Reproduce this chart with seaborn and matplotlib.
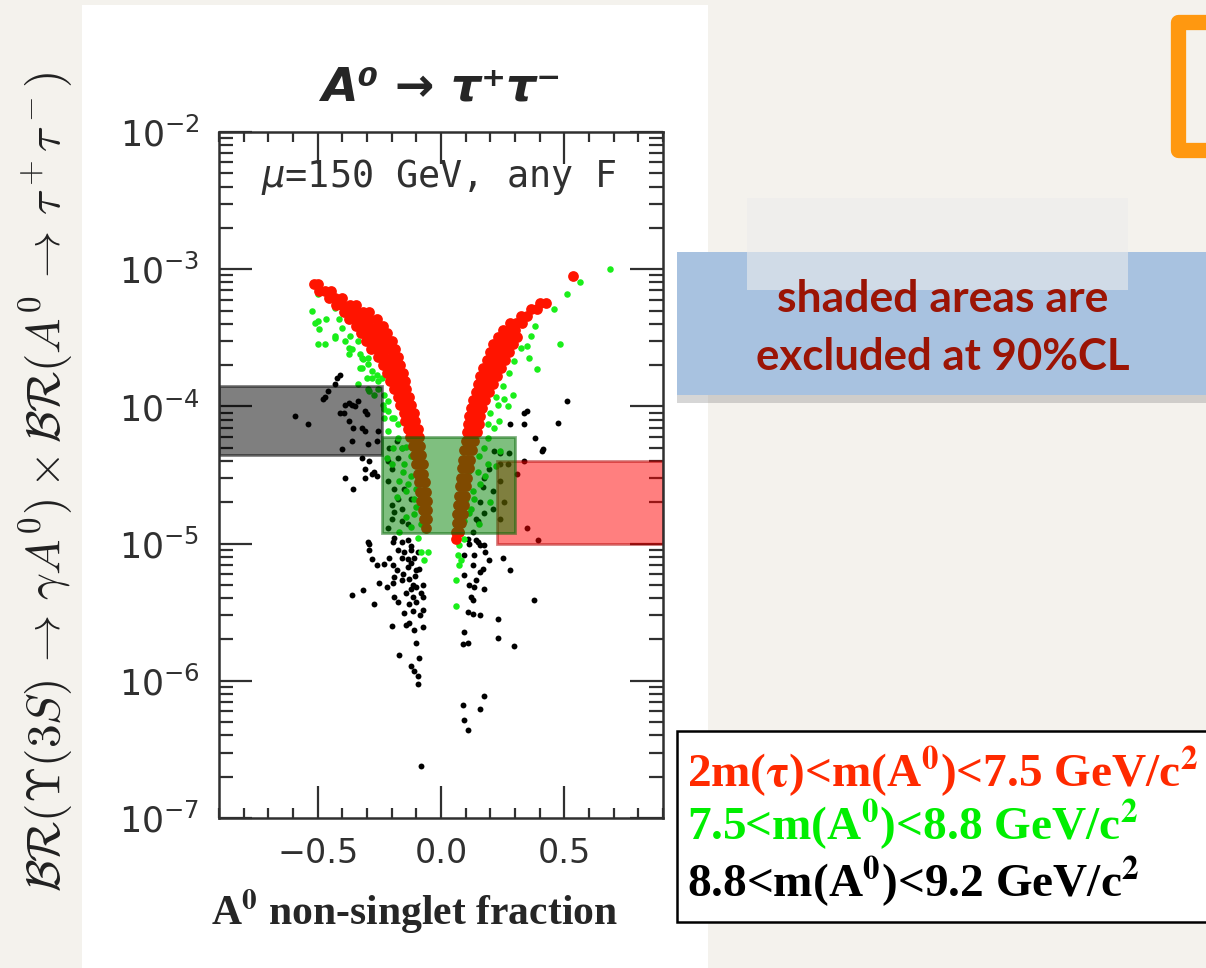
import matplotlib
matplotlib.use("Agg")
import matplotlib.pyplot as plt
import matplotlib.ticker as mticker
from matplotlib.patches import Rectangle
from matplotlib.lines import Line2D
import pandas as pd
import seaborn as sns

# ---------------------------------------------------------------------------
# Scan points: A0 non-singlet fraction vs BR(Y(3S)->gamma A0) x BR(A0->tau tau)
# ---------------------------------------------------------------------------

# 8.8 < m(A0) < 9.2 GeV/c^2
black_x = [
    -0.41, -0.42, -0.43, -0.46, -0.47, -0.48, -0.39, -0.375, -0.36, -0.35, -0.335,
    -0.395, -0.59, -0.54, -0.41, -0.375, -0.355, -0.31, -0.30, -0.32, -0.31, -0.36,
    -0.40, -0.26, -0.255, -0.295, -0.32, -0.29, -0.31, -0.27, -0.39, -0.355, -0.31,
    -0.26,
    0.51, 0.35, 0.335, 0.28, 0.335, 0.475, 0.38, 0.415, 0.41, 0.335, 0.31, 0.35, 0.395,
    -0.28, -0.215, -0.20, -0.215, -0.19, -0.175, -0.20, -0.16, -0.20, -0.16, -0.135,
    -0.215, -0.19, -0.15, -0.12, -0.175, -0.21, -0.16, -0.18, -0.295, -0.29, -0.19,
    -0.16, -0.135, -0.12,
    0.24, 0.275, 0.215, 0.195, 0.175, 0.17, 0.21, 0.16, 0.21, 0.175, 0.14, 0.15, 0.13,
    0.24, 0.255, 0.24, 0.27, 0.24, 0.14, 0.16, 0.113,
    -0.29, -0.195, -0.175, -0.15, -0.12, -0.093, -0.16, -0.135, -0.11, -0.28, -0.26,
    -0.23, -0.21, -0.195, -0.18, -0.135, -0.10, -0.09, -0.155, -0.19, -0.195, -0.16,
    -0.13, -0.113, -0.12, -0.10, -0.073, -0.25, -0.22, -0.315, -0.36, -0.27, -0.19,
    -0.175, -0.113, -0.08, -0.073, -0.13, -0.10, -0.113, -0.073, -0.20, -0.14, -0.13,
    -0.11, -0.073, -0.10, -0.17, -0.09, -0.12, -0.11, -0.093, -0.093, -0.08,
    -0.12, -0.105, -0.14, -0.085, -0.15,
    0.11, 0.15, 0.175, 0.18, 0.093, 0.133, 0.13, 0.195, 0.25, 0.28, 0.093, 0.17, 0.16,
    0.14, 0.113, 0.133, 0.173, 0.12, 0.13, 0.11, 0.13, 0.16, 0.23, 0.375, 0.093, 0.09,
    0.11, 0.23, 0.295, 0.175, 0.09, 0.16, 0.093, 0.11,
]
black_br = [
    1.7e-4, 1.6e-4, 1.45e-4, 1.29e-4, 1.18e-4, 1.14e-4, 1.03e-4, 1.05e-4, 1.03e-4, 1.0e-4, 1.09e-4,
    8.95e-5, 8.5e-5, 7.4e-5, 8.9e-5, 7.8e-5, 6.95e-5, 9.2e-5, 8.8e-5, 6.95e-5, 6.6e-5, 5.6e-5,
    4.9e-5, 5.6e-5, 6.6e-5, 5.3e-5, 4.2e-5, 4.0e-5, 3.5e-5, 3.35e-5, 3.0e-5, 2.5e-5, 3.0e-5,
    3.1e-5,
    1.1e-4, 9.2e-5, 8.9e-5, 7.4e-5, 7.4e-5, 7.6e-5, 5.9e-5, 4.9e-5, 4.7e-5, 4.0e-5, 3.2e-5, 1.29e-5, 1.07e-5,
    3.2e-5, 4.0e-5, 3.5e-5, 2.85e-5, 2.5e-5, 2.1e-5, 1.9e-5, 1.8e-5, 1.5e-5, 1.45e-5, 1.38e-5,
    1.29e-5, 1.7e-5, 2.5e-5, 2.1e-5, 4.2e-5, 5.0e-5, 5.0e-5, 5.6e-5, 1.03e-5, 8.95e-6, 1.09e-5,
    1.03e-5, 1.07e-5, 9.6e-6,
    4.6e-5, 4.6e-5, 4.7e-5, 3.5e-5, 3.0e-5, 2.6e-5, 2.4e-5, 2.0e-5, 1.78e-5, 1.66e-5, 1.52e-5, 1.45e-5, 1.22e-5,
    2.85e-5, 2.0e-5, 1.52e-5, 3.8e-5, 3.8e-5, 1.07e-5, 9.8e-6, 1.0e-5,
    9.9e-6, 1.03e-5, 8.95e-6, 8.7e-6, 8.95e-6, 8.7e-6, 7.9e-6, 7.7e-6, 7.9e-6, 7.7e-6, 6.95e-6,
    7.1e-6, 7.9e-6, 6.95e-6, 6.4e-6, 6.7e-6, 6.4e-6, 6.5e-6, 6.0e-6, 5.7e-6, 5.2e-6, 5.4e-6,
    5.5e-6, 5.0e-6, 4.65e-6, 4.8e-6, 5.0e-6, 5.2e-6, 4.8e-6, 4.56e-6, 4.2e-6, 3.6e-6, 4.05e-6,
    3.75e-6, 4.05e-6, 4.4e-6, 4.05e-6, 3.6e-6, 3.75e-6, 3.25e-6, 3.3e-6, 2.5e-6, 2.55e-6, 2.65e-6,
    2.35e-6, 2.45e-6, 1.9e-6, 1.55e-6, 1.47e-6, 1.29e-6, 1.18e-6, 1.09e-6, 9.4e-7, 2.4e-7,
    7.2e-6, 5.8e-6, 4.4e-6, 3.0e-6, 3.1e-6,
    1.08e-5, 1.03e-5, 9.8e-6, 8.7e-6, 8.2e-6, 8.2e-6, 6.95e-6, 7.6e-6, 7.9e-6, 6.4e-6, 5.9e-6, 6.5e-6, 6.2e-6,
    5.4e-6, 4.96e-6, 4.8e-6, 4.65e-6, 4.05e-6, 3.85e-6, 3.15e-6, 3.05e-6, 3.0e-6, 2.8e-6, 3.9e-6, 2.25e-6, 1.85e-6,
    1.9e-6, 2.05e-6, 1.8e-6, 7.8e-7, 6.7e-7, 6.2e-7, 5.15e-7, 4.4e-7,
]

# 7.5 < m(A0) < 8.8 GeV/c^2
green_x = [
    -0.50, -0.525, -0.50, -0.495, -0.465, -0.50, -0.47, -0.455, -0.43, -0.43, -0.40,
    -0.375, -0.375, -0.335, -0.32, -0.32, -0.295, -0.28, -0.335, -0.295, -0.255, -0.27,
    -0.235, -0.23, -0.215, -0.19, -0.175, -0.16, -0.20, -0.15, -0.135, -0.11, -0.11,
    -0.08, -0.093, -0.08, -0.07,
    -0.51, -0.415, -0.43, -0.39, -0.37, -0.36, -0.33, -0.315, -0.295, -0.33, -0.28,
    -0.30, -0.26, -0.24, -0.255, -0.29, -0.23, -0.215, -0.215, -0.20, -0.175, -0.23,
    -0.14, -0.12, -0.155, -0.12, -0.17, -0.14, -0.10, -0.14, -0.12, -0.17, -0.10,
    -0.195, -0.22, -0.18, -0.052,
    0.685, 0.565, 0.51, 0.46, 0.383, 0.363, 0.484, 0.323, 0.35, 0.355, 0.39, 0.295,
    0.275, 0.25, 0.29, 0.222, 0.254, 0.23, 0.27, 0.20, 0.19, 0.234, 0.214, 0.19, 0.173,
    0.24, 0.19, 0.15, 0.16, 0.133, 0.12, 0.093, 0.08, 0.073, 0.07, 0.073, 0.06, 0.06,
    0.08, 0.093,
    0.12, 0.153, 0.113, 0.18, 0.13, 0.20, 0.113, 0.153, 0.10, 0.222,
]
green_br = [
    6.6e-4, 4.96e-4, 4.2e-4, 3.65e-4, 4.35e-4, 2.85e-4, 2.85e-4, 6.2e-4, 5.2e-4, 3.15e-4, 3.7e-4,
    2.65e-4, 2.4e-4, 3.0e-4, 2.25e-4, 1.9e-4, 2.05e-4, 1.6e-4, 1.45e-4, 1.35e-4, 1.52e-4, 1.22e-4,
    1.03e-4, 8.2e-5, 6.6e-5, 8.2e-5, 5.9e-5, 4.96e-5, 3.8e-5, 3.8e-5, 2.7e-5, 2.13e-5, 1.63e-5,
    1.38e-5, 1.09e-5, 8.7e-6, 7.6e-6,
    4.05e-4, 4.35e-4, 3.25e-4, 3.0e-4, 3.25e-4, 2.6e-4, 2.4e-4, 2.2e-4, 2.25e-4, 1.9e-4, 1.8e-4,
    1.6e-4, 1.7e-4, 1.6e-4, 1.35e-4, 1.29e-4, 1.22e-4, 1.09e-4, 9.2e-5, 8.2e-5, 7.4e-5, 9.6e-5,
    5.1e-5, 4.35e-5, 3.35e-5, 3.1e-5, 2.85e-5, 2.4e-5, 1.85e-5, 1.56e-5, 1.33e-5, 1.22e-5, 2.5e-5,
    5.0e-5, 4.2e-5, 2.2e-5, 8.7e-6,
    1.01e-3, 8.0e-4, 6.6e-4, 5.1e-4, 3.85e-4, 3.25e-4, 2.85e-4, 2.65e-4, 2.75e-4, 2.25e-4, 1.86e-4, 2.13e-4,
    1.75e-4, 1.4e-4, 1.22e-4, 1.18e-4, 1.14e-4, 1.03e-4, 1.0e-4, 8.9e-5, 7.4e-5, 7.8e-5, 6.95e-5, 5.9e-5, 5.0e-5,
    4.7e-5, 3.8e-5, 3.35e-5, 2.7e-5, 2.13e-5, 1.8e-5, 1.45e-5, 1.22e-5, 9.8e-6, 8.2e-6, 6.95e-6, 5.4e-6, 3.5e-6,
    7.6e-6, 1.08e-5,
    5.6e-5, 4.35e-5, 3.4e-5, 3.1e-5, 2.4e-5, 2.0e-5, 1.66e-5, 1.38e-5, 2.1e-5, 3.65e-5,
]

# 2m(tau) < m(A0) < 7.5 GeV/c^2 : dense bands, listed row by row (one BR per row)
red_left_br = [
    7.85e-4, 6.97e-4, 6.19e-4, 5.50e-4, 4.89e-4, 4.35e-4, 3.86e-4, 3.43e-4, 3.00e-4,
    2.62e-4, 2.29e-4, 2.00e-4, 1.75e-4, 1.53e-4, 1.34e-4, 1.17e-4, 1.02e-4, 8.9e-5,
    7.8e-5, 6.8e-5, 5.96e-5, 5.12e-5, 4.40e-5, 3.78e-5, 3.24e-5, 2.79e-5, 2.39e-5,
    2.06e-5, 1.77e-5, 1.52e-5, 1.31e-5,
]
red_left_x = [
    [-0.515, -0.50], [-0.495, -0.47, -0.445], [-0.455, -0.43, -0.40],
    [-0.425, -0.40, -0.37, -0.345], [-0.395, -0.37, -0.34, -0.315, -0.29],
    [-0.375, -0.35, -0.32, -0.29, -0.26], [-0.345, -0.32, -0.29, -0.26, -0.235],
    [-0.325, -0.30, -0.27, -0.245, -0.22], [-0.305, -0.28, -0.25, -0.225, -0.20],
    [-0.285, -0.26, -0.23, -0.205, -0.185], [-0.255, -0.23, -0.20, -0.175],
    [-0.235, -0.21, -0.185, -0.165], [-0.22, -0.195, -0.17, -0.155],
    [-0.205, -0.18, -0.155, -0.145], [-0.19, -0.165, -0.14], [-0.175, -0.15, -0.13],
    [-0.165, -0.14, -0.12], [-0.15, -0.13, -0.11], [-0.145, -0.12, -0.105],
    [-0.135, -0.115, -0.095], [-0.125, -0.105, -0.09], [-0.115, -0.095, -0.085],
    [-0.105, -0.09, -0.08], [-0.10, -0.085, -0.075], [-0.095, -0.08, -0.072],
    [-0.09, -0.075, -0.066], [-0.085, -0.07, -0.062], [-0.08, -0.065, -0.058],
    [-0.072, -0.058], [-0.067, -0.055], [-0.06],
]
red_right_br = [
    8.97e-4, 5.69e-4, 5.15e-4, 4.57e-4, 4.06e-4, 3.61e-4, 3.21e-4, 2.85e-4, 2.49e-4,
    2.18e-4, 1.91e-4, 1.66e-4, 1.45e-4, 1.27e-4, 1.11e-4, 9.7e-5, 8.5e-5, 7.4e-5,
    6.5e-5, 5.56e-5, 4.78e-5, 4.10e-5, 3.53e-5, 3.03e-5, 2.61e-5, 2.24e-5, 1.92e-5,
    1.65e-5, 1.42e-5, 1.22e-5, 1.08e-5,
]
red_right_x = [
    [0.536], [0.40, 0.425], [0.365, 0.39], [0.325, 0.35], [0.28, 0.305, 0.33],
    [0.25, 0.275, 0.30], [0.23, 0.255, 0.28, 0.31], [0.21, 0.235, 0.26, 0.29],
    [0.20, 0.225, 0.25, 0.275], [0.185, 0.21, 0.235, 0.26], [0.17, 0.195, 0.22, 0.245],
    [0.16, 0.18, 0.205, 0.225], [0.15, 0.17, 0.19, 0.21], [0.14, 0.16, 0.18, 0.195],
    [0.13, 0.15, 0.17, 0.18], [0.12, 0.14, 0.165], [0.115, 0.135, 0.16],
    [0.11, 0.13, 0.155], [0.105, 0.125, 0.145], [0.10, 0.115, 0.135], [0.095, 0.11, 0.125],
    [0.09, 0.105, 0.118], [0.085, 0.10, 0.112], [0.082, 0.095, 0.107], [0.078, 0.09, 0.10],
    [0.074, 0.086, 0.097], [0.07, 0.082, 0.093], [0.066, 0.078, 0.088], [0.063, 0.074, 0.083],
    [0.06, 0.072], [0.06],
]

# Regions excluded at 90% CL, one per mass range
region_names = ["8.8-9.2", "2m(tau)-7.5", "7.5-8.8"]
region_x0 = [-0.90, 0.225, -0.24]
region_x1 = [-0.24, 0.90, 0.30]
region_lo = [4.4e-5, 1.0e-5, 1.2e-5]
region_hi = [1.4e-4, 4.0e-5, 6.0e-5]
region_face = ["#000000", "#ff0000", "#008000"]
region_edge = ["#000000", "#b00000", "#006400"]

legend_lines = [
    r"2m($\mathbf{\tau}$)<m(A$^{\mathbf{0}}$)<7.5 GeV/c$^{\mathbf{2}}$",
    r"7.5<m(A$^{\mathbf{0}}$)<8.8 GeV/c$^{\mathbf{2}}$",
    r"8.8<m(A$^{\mathbf{0}}$)<9.2 GeV/c$^{\mathbf{2}}$",
]
legend_colors = ["#ff2a00", "#00ee00", "#000000"]

# ---------------------------------------------------------------------------
red_x, red_br = [], []
for br, xs in zip(red_left_br + red_right_br, red_left_x + red_right_x):
    red_x.extend(xs)
    red_br.extend([br] * len(xs))

df = pd.concat([
    pd.DataFrame({"fraction": black_x, "br": black_br, "range": "black"}),
    pd.DataFrame({"fraction": green_x, "br": green_br, "range": "green"}),
    pd.DataFrame({"fraction": red_x, "br": red_br, "range": "red"}),
], ignore_index=True)

sns.set_theme(style="white")
plt.rcParams["font.family"] = ["DejaVu Sans"]

W, H = 1206, 968
fig = plt.figure(figsize=(W / 100, H / 100), dpi=100)
fig.patch.set_facecolor("#f4f2ed")


def fx(px):
    return px / W


def fy(py):
    return 1 - py / H


# white slide panel behind the plot
fig.add_artist(Rectangle((fx(82), 0), fx(708) - fx(82), fy(5), transform=fig.transFigure,
                         facecolor="white", edgecolor="none", zorder=0))

ax = fig.add_axes([fx(219), fy(818), fx(663) - fx(219), fy(132) - fy(818)])
ax.set_facecolor("white")

point_style = {"black": ("#000000", 18), "green": ("#1aee1a", 22), "red": ("#ff1400", 60)}
for name in ["black", "green", "red"]:
    col, size = point_style[name]
    sns.scatterplot(data=df[df["range"] == name], x="fraction", y="br", color=col, s=size,
                    linewidth=0, legend=False, ax=ax, zorder=2)

for x0, x1, lo, hi, fc, ec in zip(region_x0, region_x1, region_lo, region_hi,
                                  region_face, region_edge):
    ax.add_patch(Rectangle((x0, lo), x1 - x0, hi - lo, facecolor=fc, edgecolor=ec,
                           alpha=0.5, linewidth=2.0, zorder=3))

ax.set_yscale("log")
ax.set_xlim(-0.9, 0.9)
ax.set_ylim(1e-7, 1e-2)
ax.set_xlabel("")
ax.set_ylabel("")
ax.xaxis.set_major_locator(mticker.MultipleLocator(0.5))
ax.xaxis.set_minor_locator(mticker.MultipleLocator(0.1))
ax.yaxis.set_major_locator(mticker.LogLocator(base=10, numticks=10))
ax.yaxis.set_minor_locator(mticker.LogLocator(base=10, subs=range(2, 10), numticks=20))
ax.yaxis.set_minor_formatter(mticker.NullFormatter())

for s in ax.spines.values():
    s.set_color("#303030")
    s.set_linewidth(1.8)
    s.set_zorder(4)
ax.tick_params(which="both", direction="in", top=True, right=True, bottom=True, left=True,
               color="#303030", width=1.6, labelcolor="#303030")
ax.tick_params(axis="x", which="major", length=23, pad=14, labelsize=24)
ax.tick_params(axis="x", which="minor", length=7)
ax.tick_params(axis="y", which="major", length=24, pad=14, labelsize=25)
ax.tick_params(axis="y", which="minor", length=10)

ax.text(0.495, 0.934, r"$\mu$=150 GeV, any F", transform=ax.transAxes, ha="center",
        va="center", fontsize=26.5, family="DejaVu Sans Mono", color="#303030")

# title and axis titles
fig.text(fx(441), fy(88), "A\u2070 \u2192 \u03c4\u207a\u03c4\u207b", ha="center", va="center",
         fontsize=34, fontweight="bold", fontstyle="italic", family="DejaVu Sans")
fig.text(fx(414), fy(925), r"A$^{\mathbf{0}}$ non-singlet fraction", ha="center",
         va="baseline", fontsize=30, fontweight="bold", family="Liberation Serif",
         math_fontfamily="stix")
fig.text(fx(46), fy(482),
         r"$\mathcal{BR}(\Upsilon(3S)\,\rightarrow\,\gamma A^0)\times\mathcal{BR}(A^0\,\rightarrow\,\tau^+\tau^-)$",
         rotation=90, ha="center", va="center", fontsize=34, math_fontfamily="cm",
         color="#202020")

# note on the blue banner
fig.add_artist(Rectangle((fx(677), fy(403)), 1 - fx(677), fy(395) - fy(403),
                         transform=fig.transFigure, facecolor="#8a8a8a", alpha=0.35,
                         edgecolor="none", zorder=1))
fig.add_artist(Rectangle((fx(677), fy(395)), 1 - fx(677), fy(252) - fy(395),
                         transform=fig.transFigure, facecolor="#a8c2e0", edgecolor="none",
                         zorder=1))
fig.add_artist(Rectangle((fx(747), fy(290)), fx(1128) - fx(747), fy(198) - fy(290),
                         transform=fig.transFigure, facecolor="#ececec", alpha=0.6,
                         edgecolor="none", zorder=1.5))
fig.text(fx(943), fy(312), "shaded areas are", ha="center", va="baseline", fontsize=32,
         fontweight="bold", family="Lato", color="#9b1405")
fig.text(fx(943), fy(370), "excluded at 90%CL", ha="center", va="baseline", fontsize=31.5,
         fontweight="bold", family="Lato", color="#9b1405")

# orange bracket at the top right
bx = [fx(1206), fx(1178), fx(1178), fx(1206)]
by = [fy(22), fy(22), fy(150), fy(150)]
fig.add_artist(Line2D(bx, by, transform=fig.transFigure, color="#ff9810", linewidth=11,
                      solid_joinstyle="round", solid_capstyle="round"))

# mass-range key
fig.add_artist(Rectangle((fx(677), fy(922)), 1.05 - fx(677), fy(731) - fy(922),
                         transform=fig.transFigure, facecolor="white", edgecolor="black",
                         linewidth=1.8, zorder=1))
for line, col, base in zip(legend_lines, legend_colors, [787, 840, 897]):
    fig.text(fx(687), fy(base), line, ha="left", va="baseline", fontsize=34,
             fontweight="bold", family="Liberation Serif", math_fontfamily="stix", color=col)

fig.savefig("out.png", dpi=100, facecolor=fig.get_facecolor())
